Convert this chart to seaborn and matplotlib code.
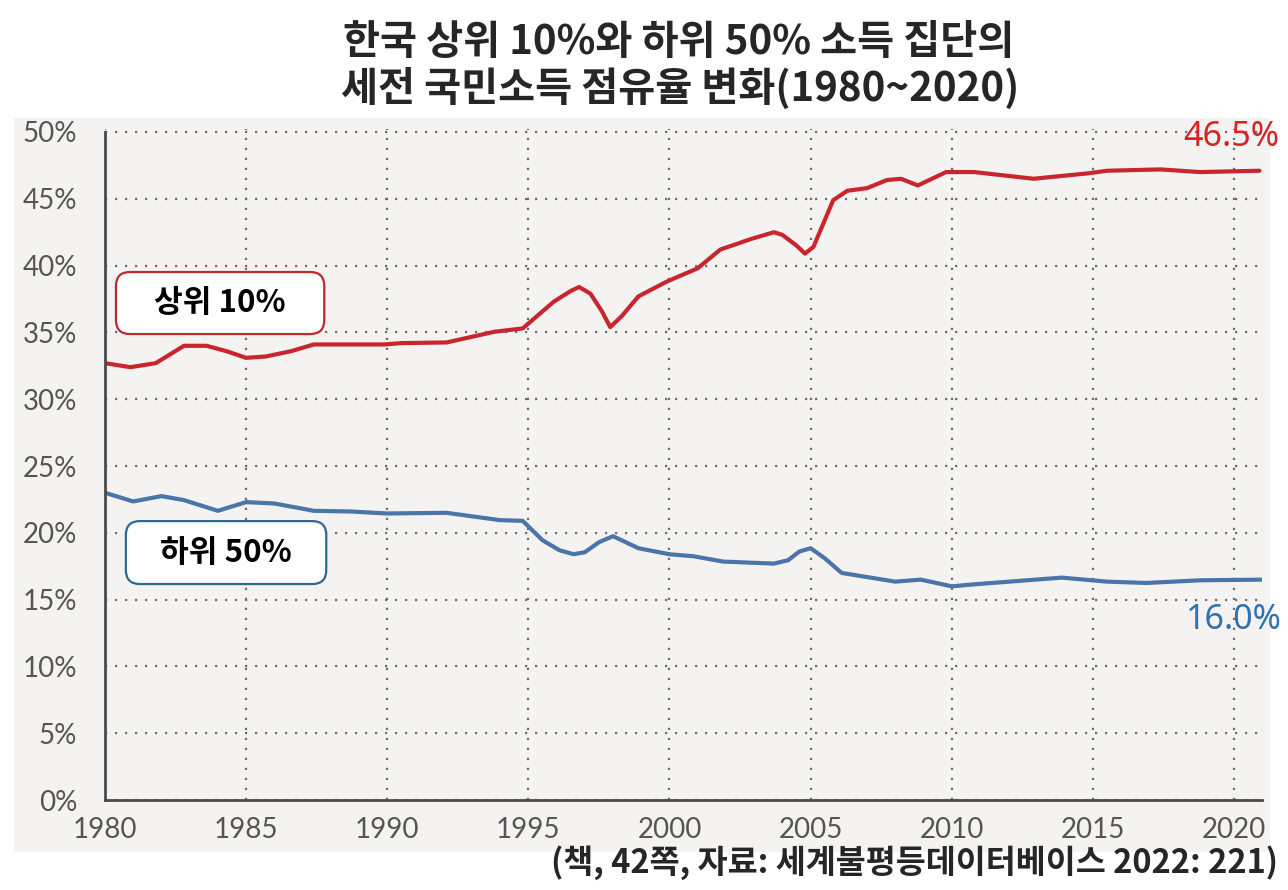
import numpy as np
import pandas as pd
import seaborn as sns
import matplotlib.pyplot as plt
from matplotlib.patches import Rectangle, FancyBboxPatch

# values
top10_year = [1980.0, 1980.9, 1981.8, 1982.8, 1983.6, 1984.3, 1985.0, 1985.7, 1986.6, 1987.4,
              1988.7, 1989.9, 1990.5, 1992.1, 1993.8, 1994.8, 1995.9, 1996.5, 1996.8, 1997.2,
              1997.6, 1997.9, 1998.3, 1998.9, 1999.9, 2001.0, 2001.8, 2002.9, 2003.7, 2004.0,
              2004.5, 2004.8, 2005.1, 2005.8, 2006.3, 2007.0, 2007.7, 2008.2, 2008.8, 2009.3,
              2009.8, 2010.8, 2012.9, 2014.8, 2015.5, 2017.4, 2018.8, 2020.9]
top10_share = [32.7, 32.4, 32.7, 34.0, 34.0, 33.6, 33.1, 33.2, 33.6, 34.1,
               34.1, 34.1, 34.2, 34.25, 35.05, 35.3, 37.3, 38.1, 38.4, 37.9,
               36.6, 35.4, 36.2, 37.7, 38.8, 39.8, 41.2, 42.0, 42.5, 42.3,
               41.5, 40.9, 41.4, 44.9, 45.6, 45.8, 46.4, 46.5, 46.0, 46.5,
               47.0, 47.0, 46.5, 46.9, 47.1, 47.2, 47.0, 47.1]

bottom50_year = [1980.0, 1981.0, 1982.0, 1982.8, 1984.0, 1985.0, 1986.0, 1987.4, 1988.7, 1990.0,
                 1992.1, 1994.0, 1994.8, 1995.5, 1996.1, 1996.6, 1997.0, 1997.5, 1998.0, 1998.9,
                 2000.0, 2000.85, 2001.9, 2003.7, 2004.2, 2004.6, 2005.0, 2005.5, 2006.1, 2008.0,
                 2008.9, 2010.0, 2010.8, 2013.9, 2015.5, 2016.9, 2018.8, 2021.0]
bottom50_share = [23.0, 22.35, 22.75, 22.45, 21.65, 22.3, 22.2, 21.65, 21.6, 21.45,
                  21.5, 20.95, 20.9, 19.45, 18.7, 18.4, 18.55, 19.3, 19.75, 18.85,
                  18.4, 18.25, 17.85, 17.7, 17.95, 18.6, 18.85, 18.1, 17.0, 16.35,
                  16.5, 16.0, 16.15, 16.65, 16.35, 16.25, 16.45, 16.5]

series_names = ["상위 10%", "하위 50%"]
end_labels = ["46.5%", "16.0%"]
year_ticks = list(range(1980, 2021, 5))
pct_ticks = list(range(0, 51, 5))

title_1 = "한국 상위 10%와 하위 50% 소득 집단의"
title_2 = "세전 국민소득 점유율 변화(1980~2020)"
source = "(책, 42쪽, 자료: 세계불평등데이터베이스 2022: 221)"

df = pd.concat([
    pd.DataFrame({"year": top10_year, "share": top10_share, "group": series_names[0]}),
    pd.DataFrame({"year": bottom50_year, "share": bottom50_share, "group": series_names[1]}),
])

sns.set_theme(style="white")
plt.rcParams["font.family"] = ["Noto Sans CJK KR", "DejaVu Sans"]

red_line = "#c9252d"
blue_line = "#4b74a8"
red_txt = "#d42424"
blue_txt = "#2f72b2"
panel = "#f5f3f2"

fig = plt.figure(figsize=(12.88, 8.9), dpi=100)
fig.patch.set_facecolor("white")
bg = Rectangle((0.011, 0.043), 0.975, 0.824, transform=fig.transFigure,
               facecolor=panel, edgecolor="none", zorder=-10)
fig.patches.append(bg)

ax = fig.add_axes([0.0815, 0.101, 0.8985, 0.7537])
ax.set_facecolor(panel)

sns.lineplot(data=df, x="year", y="share", hue="group", sort=False,
             palette=[red_line, blue_line], linewidth=3.0, legend=False, ax=ax)
for ln in ax.lines:
    ln.set_solid_joinstyle("round")
    ln.set_solid_capstyle("round")

ax.set_xlim(1980, 2021)
ax.set_ylim(0, 50.2)
ax.set_xticks(year_ticks)
ax.set_yticks(pct_ticks)
ax.set_yticklabels([f"{p}%" for p in pct_ticks])
ax.set_xlabel("")
ax.set_ylabel("")

ax.grid(True, linestyle=(0, (1, 3.5)), linewidth=1.6, color="#6e6e6e")
ax.set_axisbelow(True)
for s in ["top", "right"]:
    ax.spines[s].set_visible(False)
for s in ["left", "bottom"]:
    ax.spines[s].set_color("#4a4a4a")
    ax.spines[s].set_linewidth(2)
ax.spines["left"].set_bounds(0, 50)

ax.tick_params(axis="y", length=0, pad=20, labelsize=20, labelcolor="#555555")
ax.tick_params(axis="x", length=0, pad=12, labelsize=20, labelcolor="#555555")
for lab in ax.get_xticklabels() + ax.get_yticklabels():
    lab.set_family(["Lato", "DejaVu Sans"])
    lab.set_fontweight("normal")

# label boxes
px_x = 1 / 28.2
px_y = 1 / 13.36
for (x0, x1, y0, y1, ec, name) in [
    (1980.39, 1987.77, 34.88, 39.52, "#c0282d", series_names[0]),
    (1980.74, 1987.84, 16.17, 20.88, "#2a6a94", series_names[1]),
]:
    box = FancyBboxPatch((x0, y0), x1 - x0, y1 - y0,
                         boxstyle=f"round,pad=0,rounding_size={14 * px_x}",
                         mutation_aspect=px_y / px_x,
                         facecolor="white", edgecolor=ec, linewidth=1.6, zorder=5)
    ax.add_patch(box)
    ax.text((x0 + x1) / 2, (y0 + y1) / 2, name, ha="center", va="center",
            fontsize=22.5, fontweight="bold", color="black", zorder=6)

ax.text(2019.9, 49.6, end_labels[0], ha="center", va="center", fontsize=24.5,
        color=red_txt, family=["Noto Sans", "DejaVu Sans"], clip_on=False)
ax.text(2020.0, 13.5, end_labels[1], ha="center", va="center", fontsize=24.5,
        color=blue_txt, family=["Noto Sans", "DejaVu Sans"], clip_on=False)

fig.text(0.527, 0.952, title_1, ha="center", va="center", fontsize=29, fontweight="bold")
fig.text(0.528, 0.900, title_2, ha="center", va="center", fontsize=29, fontweight="bold")
fig.text(0.992, 0.031, source, ha="right", va="center", fontsize=23.5, fontweight="bold")

fig.savefig("out.png", dpi=100)
